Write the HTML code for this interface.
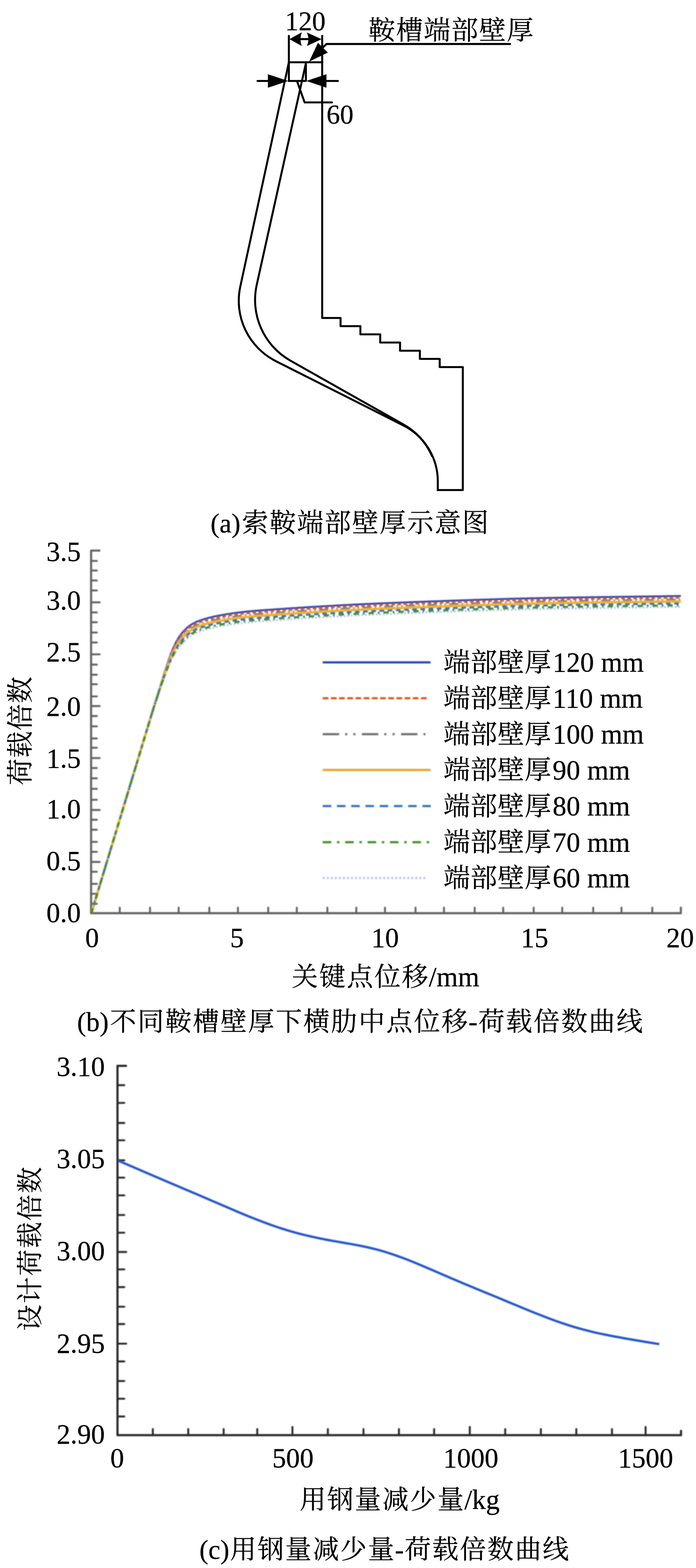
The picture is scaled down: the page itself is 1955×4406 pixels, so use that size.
<!DOCTYPE html>
<html><head><meta charset="utf-8"><title>figure</title>
<style>
html,body{margin:0;padding:0;background:#fff;overflow:hidden;}
svg{display:block;}
text{font-family:"Liberation Serif","Noto Serif CJK SC",serif;stroke:#000;stroke-width:0.45px;}
</style></head><body>
<svg width="1955" height="4406" viewBox="0 0 1955 4406">
<defs>
<filter id="bl" x="-5%" y="-5%" width="110%" height="110%"><feGaussianBlur stdDeviation="1.7"/></filter>
<filter id="bl2" x="-5%" y="-5%" width="110%" height="110%"><feGaussianBlur stdDeviation="1.5"/></filter>
</defs>
<rect width="100%" height="100%" fill="#fff"/>
<g fill="none" stroke="#000" stroke-width="5.6" stroke-linejoin="round" stroke-linecap="butt">
<path d="M811.4 175 L675.0 805.0 A190 190 0 0 0 775.1 1014.9 L1133 1195.5 A176 176 0 0 1 1229.7 1349 L1229.7 1379.8"/>
<path d="M859.8 175 L721.1 800.5 A196 196 0 0 0 816.1 1013.6 L1131 1191.5 A184 184 0 0 1 1214 1283"/>
<path d="M905.0 100.8 L905.0 893.5 L956.6 893.5 L956.6 916.5 L1012.3 916.5 L1012.3 939.5 L1068 939.5 L1068 962.5 L1123.7 962.5 L1123.7 985.5 L1179.4 985.5 L1179.4 1008.5 L1235.1 1008.5 L1235.1 1031.5 L1300 1031.5 L1300 1377 L1229.7 1377" stroke-linecap="round"/>
<path d="M811.4 100.8V227.5" stroke-linecap="round"/>
<path d="M809 175H908"/>
<path d="M859.2 175V227.5"/>
<path d="M809 227.5H861"/>
<path d="M820 109.9H896"/>
<path d="M723.5 227.5H760" stroke-linecap="round"/>
<path d="M915 227.5H949" stroke-linecap="round"/>
<path d="M834.7 229L855.7 287.7H932.2" stroke-linecap="round"/>
<path d="M1432.7 123.6H917L890 150" stroke-linecap="round"/>
</g>
<g fill="#000">
<path d="M813 109.9L847.7 90.8Q840.2 109.9 847.7 129.2Z"/>
<path d="M903.2 109.9L861.9 91.2Q870.6 109.9 861.9 129.4Z"/>
<path d="M809.5 227.5L752.5 208.6V246.6Z"/>
<path d="M860.5 227.5L917 208.5V246.5Z"/>
<path d="M868.2 173.2L893.1 120.2L920.9 147.7Z"/>
</g>
<text x="800.5" y="85" font-size="76">120</text>
<text x="917" y="346.5" font-size="76">60</text>
<text x="1034.7 1112.4 1190.1 1267.8 1345.5 1423.2" y="111.2" font-size="75.5" fill="#000">鞍槽端部壁厚</text>
<text x="591.3" y="1496" font-size="76">(a)</text>
<text x="679.6 756.9 834.2 911.5 988.8 1066.1 1143.4 1220.7 1298.0" y="1495.4" font-size="74.5" fill="#000">索鞍端部壁厚示意图</text>
<g filter="url(#bl)">
<g stroke="#606060" stroke-width="5.8" fill="none" stroke-linecap="round" stroke-linejoin="round">
<path d="M279.4 1547.1H255.9V2566.0H1912.5v-15.5"/>
</g>
<g stroke="#606060" stroke-width="5.3" fill="none" stroke-linecap="round">
<path d="M256.5 2539.7h15.5"/>
<path d="M256.5 2511.7h15.5"/>
<path d="M256.5 2483.7h15.5"/>
<path d="M256.5 2449.6h15.5"/>
<path d="M256.5 2422.0h23.5"/>
<path d="M256.5 2393.6h15.5"/>
<path d="M256.5 2365.6h15.5"/>
<path d="M256.5 2331.5h15.5"/>
<path d="M256.5 2303.5h15.5"/>
<path d="M256.5 2276.0h23.5"/>
<path d="M256.5 2247.4h15.5"/>
<path d="M256.5 2216.7h15.5"/>
<path d="M256.5 2187.0h15.5"/>
<path d="M256.5 2158.1h15.5"/>
<path d="M256.5 2130.1h23.5"/>
<path d="M256.5 2101.2h15.5"/>
<path d="M256.5 2075.0h15.5"/>
<path d="M256.5 2040.9h15.5"/>
<path d="M256.5 2012.0h15.5"/>
<path d="M256.5 1984.0h23.5"/>
<path d="M256.5 1956.9h15.5"/>
<path d="M256.5 1922.7h15.5"/>
<path d="M256.5 1896.0h15.5"/>
<path d="M256.5 1867.5h15.5"/>
<path d="M256.5 1838.6h23.5"/>
<path d="M256.5 1805.3h15.5"/>
<path d="M256.5 1777.3h15.5"/>
<path d="M256.5 1748.5h15.5"/>
<path d="M256.5 1720.8h15.5"/>
<path d="M256.5 1692.5h23.5"/>
<path d="M256.5 1659.2h15.5"/>
<path d="M256.5 1631.2h15.5"/>
<path d="M256.5 1603.2h15.5"/>
<path d="M256.5 1576.1h15.5"/>
<path d="M336.4 2566.0v-15.5"/>
<path d="M421.4 2566.0v-15.5"/>
<path d="M501.8 2566.0v-15.5"/>
<path d="M588.0 2566.0v-15.5"/>
<path d="M668.3 2566.0v-15.5"/>
<path d="M753.4 2566.0v-15.5"/>
<path d="M833.7 2566.0v-15.5"/>
<path d="M919.5 2566.0v-15.5"/>
<path d="M1000.8 2566.0v-15.5"/>
<path d="M1081.4 2566.0v-15.5"/>
<path d="M1167.1 2566.0v-15.5"/>
<path d="M1247.1 2566.0v-15.5"/>
<path d="M1333.4 2566.0v-15.5"/>
<path d="M1413.4 2566.0v-15.5"/>
<path d="M1499.1 2566.0v-15.5"/>
<path d="M1579.3 2566.0v-15.5"/>
<path d="M1666.3 2566.0v-15.5"/>
<path d="M1745.7 2566.0v-15.5"/>
<path d="M1832.2 2566.0v-15.5"/>
</g>
</g>
<g filter="url(#bl)" fill="none" stroke-width="5.2">
<path d="M256.5 2566.0 L260.6 2552.3 L264.8 2538.7 L268.9 2525.0 L273.1 2511.4 L277.2 2497.7 L281.3 2484.1 L285.5 2470.4 L289.6 2456.8 L293.8 2443.1 L297.9 2429.5 L302.0 2415.8 L306.2 2402.2 L310.3 2388.5 L314.5 2374.9 L318.6 2361.2 L322.7 2347.6 L326.9 2333.9 L331.0 2320.3 L335.2 2306.6 L339.3 2292.9 L343.4 2279.3 L347.6 2265.6 L351.7 2252.0 L355.9 2238.3 L360.0 2224.7 L364.1 2211.0 L368.3 2197.4 L372.4 2183.7 L376.6 2170.0 L380.7 2156.4 L384.8 2142.7 L389.0 2129.0 L393.1 2115.3 L397.3 2101.6 L401.4 2088.0 L405.5 2074.3 L409.7 2060.6 L413.8 2047.0 L418.0 2033.3 L422.1 2019.7 L426.2 2006.2 L430.4 1993.1 L434.5 1980.3 L438.7 1967.7 L442.8 1955.4 L446.9 1943.2 L451.1 1931.2 L455.2 1919.6 L459.4 1908.4 L463.5 1897.3 L467.6 1886.7 L471.8 1876.5 L475.9 1866.7 L480.1 1857.4 L484.2 1848.9 L488.3 1841.1 L492.5 1833.9 L496.6 1827.5 L500.8 1821.8 L504.9 1816.5 L509.0 1811.7 L513.2 1807.2 L517.3 1802.8 L521.5 1798.7 L525.6 1794.8 L529.7 1791.2 L533.9 1788.2 L538.0 1785.6 L542.2 1783.2 L546.3 1781.0 L550.4 1778.9 L554.6 1777.1 L558.7 1775.4 L562.9 1773.9 L567.0 1772.5 L571.1 1771.2 L575.3 1770.0 L579.4 1768.8 L583.6 1767.7 L587.7 1766.6 L591.8 1765.6 L596.0 1764.6 L600.1 1763.7 L604.3 1762.8 L608.4 1761.9 L612.5 1761.1 L616.7 1760.3 L620.8 1759.5 L625.0 1758.8 L629.1 1758.1 L633.2 1757.4 L637.4 1756.7 L641.5 1756.0 L645.7 1755.4 L649.8 1754.8 L653.9 1754.2 L658.1 1753.6 L662.2 1753.0 L666.4 1752.5 L670.5 1752.0 L674.6 1751.4 L678.8 1751.0 L682.9 1750.5 L687.1 1750.0 L691.2 1749.6 L695.3 1749.2 L699.5 1748.8 L703.6 1748.4 L707.8 1748.0 L711.9 1747.6 L716.0 1747.3 L720.2 1746.9 L724.3 1746.6 L728.5 1746.3 L732.6 1746.0 L736.7 1745.7 L740.9 1745.4 L745.0 1745.1 L749.2 1744.8 L753.3 1744.5 L757.4 1744.2 L761.6 1743.9 L765.7 1743.6 L769.9 1743.3 L774.0 1743.1 L778.1 1742.8 L782.3 1742.5 L786.4 1742.2 L790.6 1741.9 L794.7 1741.6 L798.8 1741.3 L803.0 1741.0 L807.1 1740.8 L811.3 1740.5 L815.4 1740.2 L819.5 1739.9 L823.7 1739.7 L827.8 1739.4 L832.0 1739.1 L836.1 1738.9 L840.2 1738.6 L844.4 1738.3 L848.5 1738.1 L852.7 1737.8 L856.8 1737.6 L860.9 1737.3 L865.1 1737.0 L869.2 1736.8 L873.4 1736.5 L877.5 1736.3 L881.6 1736.0 L885.8 1735.8 L889.9 1735.5 L894.1 1735.3 L898.2 1735.0 L902.3 1734.8 L906.5 1734.6 L910.6 1734.3 L914.8 1734.1 L918.9 1733.8 L923.0 1733.6 L927.2 1733.3 L931.3 1733.1 L935.5 1732.9 L939.6 1732.6 L943.7 1732.4 L947.9 1732.2 L952.0 1731.9 L956.2 1731.7 L960.3 1731.5 L964.4 1731.3 L968.6 1731.1 L972.7 1730.8 L976.9 1730.6 L981.0 1730.4 L985.1 1730.2 L989.3 1730.0 L993.4 1729.8 L997.6 1729.6 L1001.7 1729.4 L1005.8 1729.2 L1010.0 1729.0 L1014.1 1728.8 L1018.3 1728.6 L1022.4 1728.4 L1026.5 1728.2 L1030.7 1728.0 L1034.8 1727.8 L1039.0 1727.7 L1043.1 1727.5 L1047.2 1727.3 L1051.4 1727.1 L1055.5 1726.9 L1059.7 1726.7 L1063.8 1726.6 L1067.9 1726.4 L1072.1 1726.2 L1076.2 1726.0 L1080.4 1725.9 L1084.5 1725.7 L1088.6 1725.5 L1092.8 1725.3 L1096.9 1725.2 L1101.1 1725.0 L1105.2 1724.8 L1109.3 1724.7 L1113.5 1724.5 L1117.6 1724.3 L1121.8 1724.2 L1125.9 1724.0 L1130.0 1723.9 L1134.2 1723.7 L1138.3 1723.5 L1142.5 1723.4 L1146.6 1723.2 L1150.7 1723.1 L1154.9 1722.9 L1159.0 1722.7 L1163.2 1722.6 L1167.3 1722.4 L1171.4 1722.3 L1175.6 1722.1 L1179.7 1722.0 L1183.9 1721.8 L1188.0 1721.7 L1192.1 1721.5 L1196.3 1721.4 L1200.4 1721.2 L1204.6 1721.1 L1208.7 1720.9 L1212.8 1720.8 L1217.0 1720.6 L1221.1 1720.5 L1225.3 1720.3 L1229.4 1720.2 L1233.5 1720.0 L1237.7 1719.9 L1241.8 1719.7 L1246.0 1719.6 L1250.1 1719.4 L1254.2 1719.3 L1258.4 1719.2 L1262.5 1719.0 L1266.7 1718.9 L1270.8 1718.7 L1274.9 1718.6 L1279.1 1718.4 L1283.2 1718.3 L1287.4 1718.1 L1291.5 1718.0 L1295.6 1717.8 L1299.8 1717.7 L1303.9 1717.6 L1308.1 1717.4 L1312.2 1717.3 L1316.3 1717.1 L1320.5 1717.0 L1324.6 1716.8 L1328.8 1716.7 L1332.9 1716.6 L1337.0 1716.4 L1341.2 1716.3 L1345.3 1716.2 L1349.5 1716.0 L1353.6 1715.9 L1357.7 1715.8 L1361.9 1715.6 L1366.0 1715.5 L1370.2 1715.4 L1374.3 1715.2 L1378.4 1715.1 L1382.6 1715.0 L1386.7 1714.8 L1390.9 1714.7 L1395.0 1714.6 L1399.1 1714.5 L1403.3 1714.3 L1407.4 1714.2 L1411.6 1714.1 L1415.7 1714.0 L1419.8 1713.9 L1424.0 1713.8 L1428.1 1713.6 L1432.3 1713.5 L1436.4 1713.4 L1440.5 1713.3 L1444.7 1713.2 L1448.8 1713.1 L1453.0 1713.0 L1457.1 1712.9 L1461.2 1712.8 L1465.4 1712.7 L1469.5 1712.6 L1473.7 1712.5 L1477.8 1712.4 L1481.9 1712.3 L1486.1 1712.2 L1490.2 1712.1 L1494.4 1712.0 L1498.5 1711.9 L1502.6 1711.8 L1506.8 1711.7 L1510.9 1711.7 L1515.1 1711.6 L1519.2 1711.5 L1523.3 1711.4 L1527.5 1711.3 L1531.6 1711.2 L1535.8 1711.2 L1539.9 1711.1 L1544.0 1711.0 L1548.2 1710.9 L1552.3 1710.9 L1556.5 1710.8 L1560.6 1710.7 L1564.7 1710.6 L1568.9 1710.6 L1573.0 1710.5 L1577.2 1710.4 L1581.3 1710.3 L1585.4 1710.3 L1589.6 1710.2 L1593.7 1710.1 L1597.9 1710.1 L1602.0 1710.0 L1606.1 1709.9 L1610.3 1709.8 L1614.4 1709.8 L1618.6 1709.7 L1622.7 1709.6 L1626.8 1709.6 L1631.0 1709.5 L1635.1 1709.5 L1639.3 1709.4 L1643.4 1709.3 L1647.5 1709.3 L1651.7 1709.2 L1655.8 1709.1 L1660.0 1709.1 L1664.1 1709.0 L1668.2 1709.0 L1672.4 1708.9 L1676.5 1708.8 L1680.7 1708.8 L1684.8 1708.7 L1688.9 1708.7 L1693.1 1708.6 L1697.2 1708.5 L1701.4 1708.5 L1705.5 1708.4 L1709.6 1708.4 L1713.8 1708.3 L1717.9 1708.2 L1722.1 1708.2 L1726.2 1708.1 L1730.3 1708.1 L1734.5 1708.0 L1738.6 1708.0 L1742.8 1707.9 L1746.9 1707.8 L1751.0 1707.8 L1755.2 1707.7 L1759.3 1707.7 L1763.5 1707.6 L1767.6 1707.6 L1771.7 1707.5 L1775.9 1707.5 L1780.0 1707.4 L1784.2 1707.3 L1788.3 1707.3 L1792.4 1707.2 L1796.6 1707.2 L1800.7 1707.1 L1804.9 1707.1 L1809.0 1707.0 L1813.1 1706.9 L1817.3 1706.9 L1821.4 1706.8 L1825.6 1706.8 L1829.7 1706.7 L1833.8 1706.7 L1838.0 1706.6 L1842.1 1706.5 L1846.3 1706.5 L1850.4 1706.4 L1854.5 1706.4 L1858.7 1706.3 L1862.8 1706.2 L1867.0 1706.2 L1871.1 1706.1 L1875.2 1706.1 L1879.4 1706.0 L1883.5 1705.9 L1887.7 1705.9 L1891.8 1705.8 L1895.9 1705.8 L1900.1 1705.7 L1904.2 1705.6 L1908.4 1705.6 L1912.5 1705.5" stroke="#b4c4f0" stroke-width="5.0" stroke-dasharray="5 5"/>
<path d="M256.5 2566.0 L260.6 2552.3 L264.8 2538.7 L268.9 2525.0 L273.1 2511.4 L277.2 2497.7 L281.3 2484.1 L285.5 2470.4 L289.6 2456.8 L293.8 2443.1 L297.9 2429.5 L302.0 2415.8 L306.2 2402.2 L310.3 2388.5 L314.5 2374.9 L318.6 2361.2 L322.7 2347.6 L326.9 2333.9 L331.0 2320.3 L335.2 2306.6 L339.3 2292.9 L343.4 2279.3 L347.6 2265.6 L351.7 2252.0 L355.9 2238.3 L360.0 2224.7 L364.1 2211.0 L368.3 2197.4 L372.4 2183.7 L376.6 2170.0 L380.7 2156.4 L384.8 2142.7 L389.0 2129.0 L393.1 2115.3 L397.3 2101.6 L401.4 2088.0 L405.5 2074.3 L409.7 2060.6 L413.8 2047.0 L418.0 2033.3 L422.1 2019.7 L426.2 2006.1 L430.4 1992.4 L434.5 1978.8 L438.7 1965.2 L442.8 1951.6 L446.9 1938.0 L451.1 1924.4 L455.2 1911.0 L459.4 1897.9 L463.5 1884.9 L467.6 1872.2 L471.8 1860.1 L475.9 1848.3 L480.1 1837.0 L484.2 1826.6 L488.3 1817.1 L492.5 1808.3 L496.6 1800.4 L500.8 1793.4 L504.9 1787.1 L509.0 1781.5 L513.2 1776.5 L517.3 1771.9 L521.5 1767.8 L525.6 1763.9 L529.7 1760.3 L533.9 1757.3 L538.0 1754.7 L542.2 1752.3 L546.3 1750.1 L550.4 1748.1 L554.6 1746.2 L558.7 1744.6 L562.9 1743.1 L567.0 1741.7 L571.1 1740.4 L575.3 1739.1 L579.4 1737.9 L583.6 1736.8 L587.7 1735.7 L591.8 1734.7 L596.0 1733.7 L600.1 1732.8 L604.3 1731.9 L608.4 1731.0 L612.5 1730.2 L616.7 1729.4 L620.8 1728.7 L625.0 1727.9 L629.1 1727.2 L633.2 1726.5 L637.4 1725.8 L641.5 1725.2 L645.7 1724.5 L649.8 1723.9 L653.9 1723.3 L658.1 1722.7 L662.2 1722.2 L666.4 1721.6 L670.5 1721.1 L674.6 1720.6 L678.8 1720.1 L682.9 1719.6 L687.1 1719.2 L691.2 1718.7 L695.3 1718.3 L699.5 1717.9 L703.6 1717.5 L707.8 1717.1 L711.9 1716.8 L716.0 1716.4 L720.2 1716.1 L724.3 1715.8 L728.5 1715.4 L732.6 1715.1 L736.7 1714.8 L740.9 1714.5 L745.0 1714.2 L749.2 1713.9 L753.3 1713.6 L757.4 1713.4 L761.6 1713.1 L765.7 1712.8 L769.9 1712.5 L774.0 1712.2 L778.1 1711.9 L782.3 1711.6 L786.4 1711.3 L790.6 1711.0 L794.7 1710.8 L798.8 1710.5 L803.0 1710.2 L807.1 1709.9 L811.3 1709.6 L815.4 1709.4 L819.5 1709.1 L823.7 1708.8 L827.8 1708.5 L832.0 1708.3 L836.1 1708.0 L840.2 1707.7 L844.4 1707.5 L848.5 1707.2 L852.7 1707.0 L856.8 1706.7 L860.9 1706.4 L865.1 1706.2 L869.2 1705.9 L873.4 1705.7 L877.5 1705.4 L881.6 1705.2 L885.8 1704.9 L889.9 1704.7 L894.1 1704.4 L898.2 1704.2 L902.3 1703.9 L906.5 1703.7 L910.6 1703.5 L914.8 1703.2 L918.9 1703.0 L923.0 1702.7 L927.2 1702.5 L931.3 1702.3 L935.5 1702.0 L939.6 1701.8 L943.7 1701.5 L947.9 1701.3 L952.0 1701.1 L956.2 1700.9 L960.3 1700.6 L964.4 1700.4 L968.6 1700.2 L972.7 1700.0 L976.9 1699.8 L981.0 1699.5 L985.1 1699.3 L989.3 1699.1 L993.4 1698.9 L997.6 1698.7 L1001.7 1698.5 L1005.8 1698.3 L1010.0 1698.1 L1014.1 1697.9 L1018.3 1697.7 L1022.4 1697.6 L1026.5 1697.4 L1030.7 1697.2 L1034.8 1697.0 L1039.0 1696.8 L1043.1 1696.6 L1047.2 1696.4 L1051.4 1696.2 L1055.5 1696.1 L1059.7 1695.9 L1063.8 1695.7 L1067.9 1695.5 L1072.1 1695.4 L1076.2 1695.2 L1080.4 1695.0 L1084.5 1694.8 L1088.6 1694.7 L1092.8 1694.5 L1096.9 1694.3 L1101.1 1694.2 L1105.2 1694.0 L1109.3 1693.8 L1113.5 1693.7 L1117.6 1693.5 L1121.8 1693.3 L1125.9 1693.2 L1130.0 1693.0 L1134.2 1692.8 L1138.3 1692.7 L1142.5 1692.5 L1146.6 1692.4 L1150.7 1692.2 L1154.9 1692.0 L1159.0 1691.9 L1163.2 1691.7 L1167.3 1691.6 L1171.4 1691.4 L1175.6 1691.3 L1179.7 1691.1 L1183.9 1691.0 L1188.0 1690.8 L1192.1 1690.7 L1196.3 1690.5 L1200.4 1690.4 L1204.6 1690.2 L1208.7 1690.1 L1212.8 1689.9 L1217.0 1689.8 L1221.1 1689.6 L1225.3 1689.5 L1229.4 1689.3 L1233.5 1689.2 L1237.7 1689.0 L1241.8 1688.9 L1246.0 1688.7 L1250.1 1688.6 L1254.2 1688.4 L1258.4 1688.3 L1262.5 1688.1 L1266.7 1688.0 L1270.8 1687.9 L1274.9 1687.7 L1279.1 1687.6 L1283.2 1687.4 L1287.4 1687.3 L1291.5 1687.1 L1295.6 1687.0 L1299.8 1686.8 L1303.9 1686.7 L1308.1 1686.6 L1312.2 1686.4 L1316.3 1686.3 L1320.5 1686.1 L1324.6 1686.0 L1328.8 1685.9 L1332.9 1685.7 L1337.0 1685.6 L1341.2 1685.4 L1345.3 1685.3 L1349.5 1685.2 L1353.6 1685.0 L1357.7 1684.9 L1361.9 1684.8 L1366.0 1684.6 L1370.2 1684.5 L1374.3 1684.4 L1378.4 1684.2 L1382.6 1684.1 L1386.7 1684.0 L1390.9 1683.9 L1395.0 1683.7 L1399.1 1683.6 L1403.3 1683.5 L1407.4 1683.4 L1411.6 1683.2 L1415.7 1683.1 L1419.8 1683.0 L1424.0 1682.9 L1428.1 1682.8 L1432.3 1682.7 L1436.4 1682.6 L1440.5 1682.4 L1444.7 1682.3 L1448.8 1682.2 L1453.0 1682.1 L1457.1 1682.0 L1461.2 1681.9 L1465.4 1681.8 L1469.5 1681.7 L1473.7 1681.6 L1477.8 1681.5 L1481.9 1681.4 L1486.1 1681.3 L1490.2 1681.2 L1494.4 1681.1 L1498.5 1681.1 L1502.6 1681.0 L1506.8 1680.9 L1510.9 1680.8 L1515.1 1680.7 L1519.2 1680.6 L1523.3 1680.5 L1527.5 1680.5 L1531.6 1680.4 L1535.8 1680.3 L1539.9 1680.2 L1544.0 1680.1 L1548.2 1680.1 L1552.3 1680.0 L1556.5 1679.9 L1560.6 1679.8 L1564.7 1679.8 L1568.9 1679.7 L1573.0 1679.6 L1577.2 1679.5 L1581.3 1679.5 L1585.4 1679.4 L1589.6 1679.3 L1593.7 1679.3 L1597.9 1679.2 L1602.0 1679.1 L1606.1 1679.1 L1610.3 1679.0 L1614.4 1678.9 L1618.6 1678.9 L1622.7 1678.8 L1626.8 1678.7 L1631.0 1678.7 L1635.1 1678.6 L1639.3 1678.5 L1643.4 1678.5 L1647.5 1678.4 L1651.7 1678.3 L1655.8 1678.3 L1660.0 1678.2 L1664.1 1678.2 L1668.2 1678.1 L1672.4 1678.0 L1676.5 1678.0 L1680.7 1677.9 L1684.8 1677.9 L1688.9 1677.8 L1693.1 1677.7 L1697.2 1677.7 L1701.4 1677.6 L1705.5 1677.6 L1709.6 1677.5 L1713.8 1677.4 L1717.9 1677.4 L1722.1 1677.3 L1726.2 1677.3 L1730.3 1677.2 L1734.5 1677.2 L1738.6 1677.1 L1742.8 1677.0 L1746.9 1677.0 L1751.0 1676.9 L1755.2 1676.9 L1759.3 1676.8 L1763.5 1676.8 L1767.6 1676.7 L1771.7 1676.7 L1775.9 1676.6 L1780.0 1676.5 L1784.2 1676.5 L1788.3 1676.4 L1792.4 1676.4 L1796.6 1676.3 L1800.7 1676.3 L1804.9 1676.2 L1809.0 1676.1 L1813.1 1676.1 L1817.3 1676.0 L1821.4 1676.0 L1825.6 1675.9 L1829.7 1675.9 L1833.8 1675.8 L1838.0 1675.7 L1842.1 1675.7 L1846.3 1675.6 L1850.4 1675.6 L1854.5 1675.5 L1858.7 1675.5 L1862.8 1675.4 L1867.0 1675.3 L1871.1 1675.3 L1875.2 1675.2 L1879.4 1675.2 L1883.5 1675.1 L1887.7 1675.0 L1891.8 1675.0 L1895.9 1674.9 L1900.1 1674.8 L1904.2 1674.8 L1908.4 1674.7 L1912.5 1674.7" stroke="#2444a8" stroke-width="5.2"/>
<path d="M256.5 2566.0 L260.6 2552.3 L264.8 2538.7 L268.9 2525.0 L273.1 2511.4 L277.2 2497.7 L281.3 2484.1 L285.5 2470.4 L289.6 2456.8 L293.8 2443.1 L297.9 2429.5 L302.0 2415.8 L306.2 2402.2 L310.3 2388.5 L314.5 2374.9 L318.6 2361.2 L322.7 2347.6 L326.9 2333.9 L331.0 2320.3 L335.2 2306.6 L339.3 2292.9 L343.4 2279.3 L347.6 2265.6 L351.7 2252.0 L355.9 2238.3 L360.0 2224.7 L364.1 2211.0 L368.3 2197.4 L372.4 2183.7 L376.6 2170.0 L380.7 2156.4 L384.8 2142.7 L389.0 2129.0 L393.1 2115.3 L397.3 2101.6 L401.4 2088.0 L405.5 2074.3 L409.7 2060.6 L413.8 2047.0 L418.0 2033.3 L422.1 2019.7 L426.2 2006.1 L430.4 1992.5 L434.5 1979.0 L438.7 1965.6 L442.8 1952.2 L446.9 1938.8 L451.1 1925.4 L455.2 1912.3 L459.4 1899.5 L463.5 1886.8 L467.6 1874.4 L471.8 1862.6 L475.9 1851.1 L480.1 1840.1 L484.2 1830.0 L488.3 1820.7 L492.5 1812.1 L496.6 1804.5 L500.8 1797.7 L504.9 1791.6 L509.0 1786.0 L513.2 1781.1 L517.3 1776.6 L521.5 1772.5 L525.6 1768.6 L529.7 1765.0 L533.9 1762.0 L538.0 1759.4 L542.2 1757.0 L546.3 1754.8 L550.4 1752.8 L554.6 1750.9 L558.7 1749.2 L562.9 1747.7 L567.0 1746.3 L571.1 1745.0 L575.3 1743.8 L579.4 1742.6 L583.6 1741.5 L587.7 1740.4 L591.8 1739.4 L596.0 1738.4 L600.1 1737.5 L604.3 1736.6 L608.4 1735.7 L612.5 1734.9 L616.7 1734.1 L620.8 1733.3 L625.0 1732.6 L629.1 1731.9 L633.2 1731.2 L637.4 1730.5 L641.5 1729.8 L645.7 1729.2 L649.8 1728.6 L653.9 1728.0 L658.1 1727.4 L662.2 1726.8 L666.4 1726.3 L670.5 1725.8 L674.6 1725.2 L678.8 1724.8 L682.9 1724.3 L687.1 1723.8 L691.2 1723.4 L695.3 1723.0 L699.5 1722.6 L703.6 1722.2 L707.8 1721.8 L711.9 1721.4 L716.0 1721.1 L720.2 1720.7 L724.3 1720.4 L728.5 1720.1 L732.6 1719.8 L736.7 1719.5 L740.9 1719.2 L745.0 1718.9 L749.2 1718.6 L753.3 1718.3 L757.4 1718.0 L761.6 1717.7 L765.7 1717.4 L769.9 1717.2 L774.0 1716.9 L778.1 1716.6 L782.3 1716.3 L786.4 1716.0 L790.6 1715.7 L794.7 1715.4 L798.8 1715.1 L803.0 1714.8 L807.1 1714.6 L811.3 1714.3 L815.4 1714.0 L819.5 1713.7 L823.7 1713.5 L827.8 1713.2 L832.0 1712.9 L836.1 1712.7 L840.2 1712.4 L844.4 1712.1 L848.5 1711.9 L852.7 1711.6 L856.8 1711.4 L860.9 1711.1 L865.1 1710.8 L869.2 1710.6 L873.4 1710.3 L877.5 1710.1 L881.6 1709.8 L885.8 1709.6 L889.9 1709.3 L894.1 1709.1 L898.2 1708.8 L902.3 1708.6 L906.5 1708.4 L910.6 1708.1 L914.8 1707.9 L918.9 1707.6 L923.0 1707.4 L927.2 1707.1 L931.3 1706.9 L935.5 1706.7 L939.6 1706.4 L943.7 1706.2 L947.9 1706.0 L952.0 1705.7 L956.2 1705.5 L960.3 1705.3 L964.4 1705.1 L968.6 1704.9 L972.7 1704.6 L976.9 1704.4 L981.0 1704.2 L985.1 1704.0 L989.3 1703.8 L993.4 1703.6 L997.6 1703.4 L1001.7 1703.2 L1005.8 1703.0 L1010.0 1702.8 L1014.1 1702.6 L1018.3 1702.4 L1022.4 1702.2 L1026.5 1702.0 L1030.7 1701.8 L1034.8 1701.6 L1039.0 1701.5 L1043.1 1701.3 L1047.2 1701.1 L1051.4 1700.9 L1055.5 1700.7 L1059.7 1700.5 L1063.8 1700.4 L1067.9 1700.2 L1072.1 1700.0 L1076.2 1699.8 L1080.4 1699.7 L1084.5 1699.5 L1088.6 1699.3 L1092.8 1699.1 L1096.9 1699.0 L1101.1 1698.8 L1105.2 1698.6 L1109.3 1698.5 L1113.5 1698.3 L1117.6 1698.1 L1121.8 1698.0 L1125.9 1697.8 L1130.0 1697.7 L1134.2 1697.5 L1138.3 1697.3 L1142.5 1697.2 L1146.6 1697.0 L1150.7 1696.9 L1154.9 1696.7 L1159.0 1696.5 L1163.2 1696.4 L1167.3 1696.2 L1171.4 1696.1 L1175.6 1695.9 L1179.7 1695.8 L1183.9 1695.6 L1188.0 1695.5 L1192.1 1695.3 L1196.3 1695.2 L1200.4 1695.0 L1204.6 1694.9 L1208.7 1694.7 L1212.8 1694.6 L1217.0 1694.4 L1221.1 1694.3 L1225.3 1694.1 L1229.4 1694.0 L1233.5 1693.8 L1237.7 1693.7 L1241.8 1693.5 L1246.0 1693.4 L1250.1 1693.2 L1254.2 1693.1 L1258.4 1693.0 L1262.5 1692.8 L1266.7 1692.7 L1270.8 1692.5 L1274.9 1692.4 L1279.1 1692.2 L1283.2 1692.1 L1287.4 1691.9 L1291.5 1691.8 L1295.6 1691.6 L1299.8 1691.5 L1303.9 1691.4 L1308.1 1691.2 L1312.2 1691.1 L1316.3 1690.9 L1320.5 1690.8 L1324.6 1690.6 L1328.8 1690.5 L1332.9 1690.4 L1337.0 1690.2 L1341.2 1690.1 L1345.3 1690.0 L1349.5 1689.8 L1353.6 1689.7 L1357.7 1689.6 L1361.9 1689.4 L1366.0 1689.3 L1370.2 1689.2 L1374.3 1689.0 L1378.4 1688.9 L1382.6 1688.8 L1386.7 1688.6 L1390.9 1688.5 L1395.0 1688.4 L1399.1 1688.3 L1403.3 1688.1 L1407.4 1688.0 L1411.6 1687.9 L1415.7 1687.8 L1419.8 1687.7 L1424.0 1687.6 L1428.1 1687.4 L1432.3 1687.3 L1436.4 1687.2 L1440.5 1687.1 L1444.7 1687.0 L1448.8 1686.9 L1453.0 1686.8 L1457.1 1686.7 L1461.2 1686.6 L1465.4 1686.5 L1469.5 1686.4 L1473.7 1686.3 L1477.8 1686.2 L1481.9 1686.1 L1486.1 1686.0 L1490.2 1685.9 L1494.4 1685.8 L1498.5 1685.7 L1502.6 1685.6 L1506.8 1685.5 L1510.9 1685.5 L1515.1 1685.4 L1519.2 1685.3 L1523.3 1685.2 L1527.5 1685.1 L1531.6 1685.0 L1535.8 1685.0 L1539.9 1684.9 L1544.0 1684.8 L1548.2 1684.7 L1552.3 1684.7 L1556.5 1684.6 L1560.6 1684.5 L1564.7 1684.4 L1568.9 1684.4 L1573.0 1684.3 L1577.2 1684.2 L1581.3 1684.1 L1585.4 1684.1 L1589.6 1684.0 L1593.7 1683.9 L1597.9 1683.9 L1602.0 1683.8 L1606.1 1683.7 L1610.3 1683.7 L1614.4 1683.6 L1618.6 1683.5 L1622.7 1683.5 L1626.8 1683.4 L1631.0 1683.3 L1635.1 1683.3 L1639.3 1683.2 L1643.4 1683.1 L1647.5 1683.1 L1651.7 1683.0 L1655.8 1682.9 L1660.0 1682.9 L1664.1 1682.8 L1668.2 1682.8 L1672.4 1682.7 L1676.5 1682.6 L1680.7 1682.6 L1684.8 1682.5 L1688.9 1682.5 L1693.1 1682.4 L1697.2 1682.3 L1701.4 1682.3 L1705.5 1682.2 L1709.6 1682.2 L1713.8 1682.1 L1717.9 1682.0 L1722.1 1682.0 L1726.2 1681.9 L1730.3 1681.9 L1734.5 1681.8 L1738.6 1681.8 L1742.8 1681.7 L1746.9 1681.6 L1751.0 1681.6 L1755.2 1681.5 L1759.3 1681.5 L1763.5 1681.4 L1767.6 1681.4 L1771.7 1681.3 L1775.9 1681.3 L1780.0 1681.2 L1784.2 1681.1 L1788.3 1681.1 L1792.4 1681.0 L1796.6 1681.0 L1800.7 1680.9 L1804.9 1680.9 L1809.0 1680.8 L1813.1 1680.7 L1817.3 1680.7 L1821.4 1680.6 L1825.6 1680.6 L1829.7 1680.5 L1833.8 1680.5 L1838.0 1680.4 L1842.1 1680.3 L1846.3 1680.3 L1850.4 1680.2 L1854.5 1680.2 L1858.7 1680.1 L1862.8 1680.0 L1867.0 1680.0 L1871.1 1679.9 L1875.2 1679.9 L1879.4 1679.8 L1883.5 1679.7 L1887.7 1679.7 L1891.8 1679.6 L1895.9 1679.6 L1900.1 1679.5 L1904.2 1679.4 L1908.4 1679.4 L1912.5 1679.3" stroke="#d85818" stroke-width="5.6" stroke-dasharray="10 7"/>
<path d="M256.5 2566.0 L260.6 2552.3 L264.8 2538.7 L268.9 2525.0 L273.1 2511.4 L277.2 2497.7 L281.3 2484.1 L285.5 2470.4 L289.6 2456.8 L293.8 2443.1 L297.9 2429.5 L302.0 2415.8 L306.2 2402.2 L310.3 2388.5 L314.5 2374.9 L318.6 2361.2 L322.7 2347.6 L326.9 2333.9 L331.0 2320.3 L335.2 2306.6 L339.3 2292.9 L343.4 2279.3 L347.6 2265.6 L351.7 2252.0 L355.9 2238.3 L360.0 2224.7 L364.1 2211.0 L368.3 2197.4 L372.4 2183.7 L376.6 2170.0 L380.7 2156.4 L384.8 2142.7 L389.0 2129.0 L393.1 2115.3 L397.3 2101.6 L401.4 2088.0 L405.5 2074.3 L409.7 2060.6 L413.8 2047.0 L418.0 2033.3 L422.1 2019.7 L426.2 2006.1 L430.4 1992.6 L434.5 1979.3 L438.7 1966.0 L442.8 1952.8 L446.9 1939.6 L451.1 1926.5 L455.2 1913.7 L459.4 1901.2 L463.5 1888.8 L467.6 1876.7 L471.8 1865.2 L475.9 1854.0 L480.1 1843.3 L484.2 1833.5 L488.3 1824.6 L492.5 1816.3 L496.6 1808.8 L500.8 1802.3 L504.9 1796.3 L509.0 1790.9 L513.2 1786.0 L517.3 1781.5 L521.5 1777.4 L525.6 1773.5 L529.7 1770.0 L533.9 1766.9 L538.0 1764.4 L542.2 1762.0 L546.3 1759.7 L550.4 1757.7 L554.6 1755.8 L558.7 1754.2 L562.9 1752.7 L567.0 1751.3 L571.1 1750.0 L575.3 1748.7 L579.4 1747.6 L583.6 1746.4 L587.7 1745.3 L591.8 1744.3 L596.0 1743.3 L600.1 1742.4 L604.3 1741.5 L608.4 1740.7 L612.5 1739.8 L616.7 1739.0 L620.8 1738.3 L625.0 1737.5 L629.1 1736.8 L633.2 1736.1 L637.4 1735.4 L641.5 1734.8 L645.7 1734.1 L649.8 1733.5 L653.9 1732.9 L658.1 1732.3 L662.2 1731.8 L666.4 1731.2 L670.5 1730.7 L674.6 1730.2 L678.8 1729.7 L682.9 1729.2 L687.1 1728.8 L691.2 1728.3 L695.3 1727.9 L699.5 1727.5 L703.6 1727.1 L707.8 1726.8 L711.9 1726.4 L716.0 1726.0 L720.2 1725.7 L724.3 1725.4 L728.5 1725.0 L732.6 1724.7 L736.7 1724.4 L740.9 1724.1 L745.0 1723.8 L749.2 1723.5 L753.3 1723.2 L757.4 1723.0 L761.6 1722.7 L765.7 1722.4 L769.9 1722.1 L774.0 1721.8 L778.1 1721.5 L782.3 1721.2 L786.4 1720.9 L790.6 1720.6 L794.7 1720.4 L798.8 1720.1 L803.0 1719.8 L807.1 1719.5 L811.3 1719.2 L815.4 1719.0 L819.5 1718.7 L823.7 1718.4 L827.8 1718.1 L832.0 1717.9 L836.1 1717.6 L840.2 1717.3 L844.4 1717.1 L848.5 1716.8 L852.7 1716.6 L856.8 1716.3 L860.9 1716.0 L865.1 1715.8 L869.2 1715.5 L873.4 1715.3 L877.5 1715.0 L881.6 1714.8 L885.8 1714.5 L889.9 1714.3 L894.1 1714.0 L898.2 1713.8 L902.3 1713.5 L906.5 1713.3 L910.6 1713.1 L914.8 1712.8 L918.9 1712.6 L923.0 1712.3 L927.2 1712.1 L931.3 1711.9 L935.5 1711.6 L939.6 1711.4 L943.7 1711.2 L947.9 1710.9 L952.0 1710.7 L956.2 1710.5 L960.3 1710.2 L964.4 1710.0 L968.6 1709.8 L972.7 1709.6 L976.9 1709.4 L981.0 1709.2 L985.1 1708.9 L989.3 1708.7 L993.4 1708.5 L997.6 1708.3 L1001.7 1708.1 L1005.8 1707.9 L1010.0 1707.7 L1014.1 1707.5 L1018.3 1707.3 L1022.4 1707.2 L1026.5 1707.0 L1030.7 1706.8 L1034.8 1706.6 L1039.0 1706.4 L1043.1 1706.2 L1047.2 1706.0 L1051.4 1705.9 L1055.5 1705.7 L1059.7 1705.5 L1063.8 1705.3 L1067.9 1705.1 L1072.1 1705.0 L1076.2 1704.8 L1080.4 1704.6 L1084.5 1704.4 L1088.6 1704.3 L1092.8 1704.1 L1096.9 1703.9 L1101.1 1703.8 L1105.2 1703.6 L1109.3 1703.4 L1113.5 1703.3 L1117.6 1703.1 L1121.8 1702.9 L1125.9 1702.8 L1130.0 1702.6 L1134.2 1702.4 L1138.3 1702.3 L1142.5 1702.1 L1146.6 1702.0 L1150.7 1701.8 L1154.9 1701.7 L1159.0 1701.5 L1163.2 1701.3 L1167.3 1701.2 L1171.4 1701.0 L1175.6 1700.9 L1179.7 1700.7 L1183.9 1700.6 L1188.0 1700.4 L1192.1 1700.3 L1196.3 1700.1 L1200.4 1700.0 L1204.6 1699.8 L1208.7 1699.7 L1212.8 1699.5 L1217.0 1699.4 L1221.1 1699.2 L1225.3 1699.1 L1229.4 1698.9 L1233.5 1698.8 L1237.7 1698.6 L1241.8 1698.5 L1246.0 1698.3 L1250.1 1698.2 L1254.2 1698.1 L1258.4 1697.9 L1262.5 1697.8 L1266.7 1697.6 L1270.8 1697.5 L1274.9 1697.3 L1279.1 1697.2 L1283.2 1697.0 L1287.4 1696.9 L1291.5 1696.7 L1295.6 1696.6 L1299.8 1696.4 L1303.9 1696.3 L1308.1 1696.2 L1312.2 1696.0 L1316.3 1695.9 L1320.5 1695.7 L1324.6 1695.6 L1328.8 1695.5 L1332.9 1695.3 L1337.0 1695.2 L1341.2 1695.0 L1345.3 1694.9 L1349.5 1694.8 L1353.6 1694.6 L1357.7 1694.5 L1361.9 1694.4 L1366.0 1694.2 L1370.2 1694.1 L1374.3 1694.0 L1378.4 1693.8 L1382.6 1693.7 L1386.7 1693.6 L1390.9 1693.5 L1395.0 1693.3 L1399.1 1693.2 L1403.3 1693.1 L1407.4 1693.0 L1411.6 1692.9 L1415.7 1692.7 L1419.8 1692.6 L1424.0 1692.5 L1428.1 1692.4 L1432.3 1692.3 L1436.4 1692.2 L1440.5 1692.0 L1444.7 1691.9 L1448.8 1691.8 L1453.0 1691.7 L1457.1 1691.6 L1461.2 1691.5 L1465.4 1691.4 L1469.5 1691.3 L1473.7 1691.2 L1477.8 1691.1 L1481.9 1691.0 L1486.1 1690.9 L1490.2 1690.8 L1494.4 1690.8 L1498.5 1690.7 L1502.6 1690.6 L1506.8 1690.5 L1510.9 1690.4 L1515.1 1690.3 L1519.2 1690.2 L1523.3 1690.2 L1527.5 1690.1 L1531.6 1690.0 L1535.8 1689.9 L1539.9 1689.8 L1544.0 1689.8 L1548.2 1689.7 L1552.3 1689.6 L1556.5 1689.5 L1560.6 1689.4 L1564.7 1689.4 L1568.9 1689.3 L1573.0 1689.2 L1577.2 1689.2 L1581.3 1689.1 L1585.4 1689.0 L1589.6 1688.9 L1593.7 1688.9 L1597.9 1688.8 L1602.0 1688.7 L1606.1 1688.7 L1610.3 1688.6 L1614.4 1688.5 L1618.6 1688.5 L1622.7 1688.4 L1626.8 1688.3 L1631.0 1688.3 L1635.1 1688.2 L1639.3 1688.1 L1643.4 1688.1 L1647.5 1688.0 L1651.7 1688.0 L1655.8 1687.9 L1660.0 1687.8 L1664.1 1687.8 L1668.2 1687.7 L1672.4 1687.6 L1676.5 1687.6 L1680.7 1687.5 L1684.8 1687.5 L1688.9 1687.4 L1693.1 1687.3 L1697.2 1687.3 L1701.4 1687.2 L1705.5 1687.2 L1709.6 1687.1 L1713.8 1687.1 L1717.9 1687.0 L1722.1 1686.9 L1726.2 1686.9 L1730.3 1686.8 L1734.5 1686.8 L1738.6 1686.7 L1742.8 1686.7 L1746.9 1686.6 L1751.0 1686.5 L1755.2 1686.5 L1759.3 1686.4 L1763.5 1686.4 L1767.6 1686.3 L1771.7 1686.3 L1775.9 1686.2 L1780.0 1686.1 L1784.2 1686.1 L1788.3 1686.0 L1792.4 1686.0 L1796.6 1685.9 L1800.7 1685.9 L1804.9 1685.8 L1809.0 1685.8 L1813.1 1685.7 L1817.3 1685.6 L1821.4 1685.6 L1825.6 1685.5 L1829.7 1685.5 L1833.8 1685.4 L1838.0 1685.3 L1842.1 1685.3 L1846.3 1685.2 L1850.4 1685.2 L1854.5 1685.1 L1858.7 1685.1 L1862.8 1685.0 L1867.0 1684.9 L1871.1 1684.9 L1875.2 1684.8 L1879.4 1684.8 L1883.5 1684.7 L1887.7 1684.6 L1891.8 1684.6 L1895.9 1684.5 L1900.1 1684.4 L1904.2 1684.4 L1908.4 1684.3 L1912.5 1684.3" stroke="#808080" stroke-width="5.0" stroke-dasharray="26 9 4 9 4 9"/>
<path d="M256.5 2566.0 L260.6 2552.3 L264.8 2538.7 L268.9 2525.0 L273.1 2511.4 L277.2 2497.7 L281.3 2484.1 L285.5 2470.4 L289.6 2456.8 L293.8 2443.1 L297.9 2429.5 L302.0 2415.8 L306.2 2402.2 L310.3 2388.5 L314.5 2374.9 L318.6 2361.2 L322.7 2347.6 L326.9 2333.9 L331.0 2320.3 L335.2 2306.6 L339.3 2292.9 L343.4 2279.3 L347.6 2265.6 L351.7 2252.0 L355.9 2238.3 L360.0 2224.7 L364.1 2211.0 L368.3 2197.4 L372.4 2183.7 L376.6 2170.0 L380.7 2156.4 L384.8 2142.7 L389.0 2129.0 L393.1 2115.3 L397.3 2101.6 L401.4 2088.0 L405.5 2074.3 L409.7 2060.6 L413.8 2047.0 L418.0 2033.3 L422.1 2019.7 L426.2 2006.1 L430.4 1992.8 L434.5 1979.5 L438.7 1966.4 L442.8 1953.5 L446.9 1940.5 L451.1 1927.7 L455.2 1915.2 L459.4 1903.0 L463.5 1891.0 L467.6 1879.3 L471.8 1868.1 L475.9 1857.4 L480.1 1847.0 L484.2 1837.5 L488.3 1828.9 L492.5 1820.9 L496.6 1813.7 L500.8 1807.3 L504.9 1801.5 L509.0 1796.3 L513.2 1791.5 L517.3 1787.1 L521.5 1782.9 L525.6 1779.1 L529.7 1775.5 L533.9 1772.5 L538.0 1769.9 L542.2 1767.5 L546.3 1765.3 L550.4 1763.2 L554.6 1761.4 L558.7 1759.7 L562.9 1758.2 L567.0 1756.8 L571.1 1755.5 L575.3 1754.3 L579.4 1753.1 L583.6 1752.0 L587.7 1750.9 L591.8 1749.9 L596.0 1748.9 L600.1 1747.9 L604.3 1747.0 L608.4 1746.2 L612.5 1745.4 L616.7 1744.6 L620.8 1743.8 L625.0 1743.1 L629.1 1742.3 L633.2 1741.6 L637.4 1741.0 L641.5 1740.3 L645.7 1739.7 L649.8 1739.0 L653.9 1738.4 L658.1 1737.9 L662.2 1737.3 L666.4 1736.8 L670.5 1736.2 L674.6 1735.7 L678.8 1735.2 L682.9 1734.8 L687.1 1734.3 L691.2 1733.9 L695.3 1733.5 L699.5 1733.0 L703.6 1732.7 L707.8 1732.3 L711.9 1731.9 L716.0 1731.6 L720.2 1731.2 L724.3 1730.9 L728.5 1730.6 L732.6 1730.3 L736.7 1730.0 L740.9 1729.7 L745.0 1729.4 L749.2 1729.1 L753.3 1728.8 L757.4 1728.5 L761.6 1728.2 L765.7 1727.9 L769.9 1727.6 L774.0 1727.3 L778.1 1727.0 L782.3 1726.8 L786.4 1726.5 L790.6 1726.2 L794.7 1725.9 L798.8 1725.6 L803.0 1725.3 L807.1 1725.0 L811.3 1724.8 L815.4 1724.5 L819.5 1724.2 L823.7 1723.9 L827.8 1723.7 L832.0 1723.4 L836.1 1723.1 L840.2 1722.9 L844.4 1722.6 L848.5 1722.3 L852.7 1722.1 L856.8 1721.8 L860.9 1721.6 L865.1 1721.3 L869.2 1721.1 L873.4 1720.8 L877.5 1720.6 L881.6 1720.3 L885.8 1720.1 L889.9 1719.8 L894.1 1719.6 L898.2 1719.3 L902.3 1719.1 L906.5 1718.8 L910.6 1718.6 L914.8 1718.3 L918.9 1718.1 L923.0 1717.9 L927.2 1717.6 L931.3 1717.4 L935.5 1717.2 L939.6 1716.9 L943.7 1716.7 L947.9 1716.5 L952.0 1716.2 L956.2 1716.0 L960.3 1715.8 L964.4 1715.6 L968.6 1715.3 L972.7 1715.1 L976.9 1714.9 L981.0 1714.7 L985.1 1714.5 L989.3 1714.3 L993.4 1714.1 L997.6 1713.9 L1001.7 1713.7 L1005.8 1713.5 L1010.0 1713.3 L1014.1 1713.1 L1018.3 1712.9 L1022.4 1712.7 L1026.5 1712.5 L1030.7 1712.3 L1034.8 1712.1 L1039.0 1711.9 L1043.1 1711.8 L1047.2 1711.6 L1051.4 1711.4 L1055.5 1711.2 L1059.7 1711.0 L1063.8 1710.8 L1067.9 1710.7 L1072.1 1710.5 L1076.2 1710.3 L1080.4 1710.1 L1084.5 1710.0 L1088.6 1709.8 L1092.8 1709.6 L1096.9 1709.5 L1101.1 1709.3 L1105.2 1709.1 L1109.3 1709.0 L1113.5 1708.8 L1117.6 1708.6 L1121.8 1708.5 L1125.9 1708.3 L1130.0 1708.1 L1134.2 1708.0 L1138.3 1707.8 L1142.5 1707.7 L1146.6 1707.5 L1150.7 1707.3 L1154.9 1707.2 L1159.0 1707.0 L1163.2 1706.9 L1167.3 1706.7 L1171.4 1706.6 L1175.6 1706.4 L1179.7 1706.3 L1183.9 1706.1 L1188.0 1706.0 L1192.1 1705.8 L1196.3 1705.7 L1200.4 1705.5 L1204.6 1705.4 L1208.7 1705.2 L1212.8 1705.1 L1217.0 1704.9 L1221.1 1704.8 L1225.3 1704.6 L1229.4 1704.5 L1233.5 1704.3 L1237.7 1704.2 L1241.8 1704.0 L1246.0 1703.9 L1250.1 1703.7 L1254.2 1703.6 L1258.4 1703.4 L1262.5 1703.3 L1266.7 1703.1 L1270.8 1703.0 L1274.9 1702.8 L1279.1 1702.7 L1283.2 1702.6 L1287.4 1702.4 L1291.5 1702.3 L1295.6 1702.1 L1299.8 1702.0 L1303.9 1701.8 L1308.1 1701.7 L1312.2 1701.6 L1316.3 1701.4 L1320.5 1701.3 L1324.6 1701.1 L1328.8 1701.0 L1332.9 1700.8 L1337.0 1700.7 L1341.2 1700.6 L1345.3 1700.4 L1349.5 1700.3 L1353.6 1700.2 L1357.7 1700.0 L1361.9 1699.9 L1366.0 1699.8 L1370.2 1699.6 L1374.3 1699.5 L1378.4 1699.4 L1382.6 1699.3 L1386.7 1699.1 L1390.9 1699.0 L1395.0 1698.9 L1399.1 1698.7 L1403.3 1698.6 L1407.4 1698.5 L1411.6 1698.4 L1415.7 1698.3 L1419.8 1698.1 L1424.0 1698.0 L1428.1 1697.9 L1432.3 1697.8 L1436.4 1697.7 L1440.5 1697.6 L1444.7 1697.5 L1448.8 1697.4 L1453.0 1697.3 L1457.1 1697.2 L1461.2 1697.0 L1465.4 1696.9 L1469.5 1696.8 L1473.7 1696.7 L1477.8 1696.7 L1481.9 1696.6 L1486.1 1696.5 L1490.2 1696.4 L1494.4 1696.3 L1498.5 1696.2 L1502.6 1696.1 L1506.8 1696.0 L1510.9 1695.9 L1515.1 1695.9 L1519.2 1695.8 L1523.3 1695.7 L1527.5 1695.6 L1531.6 1695.5 L1535.8 1695.4 L1539.9 1695.4 L1544.0 1695.3 L1548.2 1695.2 L1552.3 1695.1 L1556.5 1695.1 L1560.6 1695.0 L1564.7 1694.9 L1568.9 1694.8 L1573.0 1694.8 L1577.2 1694.7 L1581.3 1694.6 L1585.4 1694.5 L1589.6 1694.5 L1593.7 1694.4 L1597.9 1694.3 L1602.0 1694.3 L1606.1 1694.2 L1610.3 1694.1 L1614.4 1694.1 L1618.6 1694.0 L1622.7 1693.9 L1626.8 1693.9 L1631.0 1693.8 L1635.1 1693.7 L1639.3 1693.7 L1643.4 1693.6 L1647.5 1693.5 L1651.7 1693.5 L1655.8 1693.4 L1660.0 1693.4 L1664.1 1693.3 L1668.2 1693.2 L1672.4 1693.2 L1676.5 1693.1 L1680.7 1693.1 L1684.8 1693.0 L1688.9 1692.9 L1693.1 1692.9 L1697.2 1692.8 L1701.4 1692.8 L1705.5 1692.7 L1709.6 1692.6 L1713.8 1692.6 L1717.9 1692.5 L1722.1 1692.5 L1726.2 1692.4 L1730.3 1692.4 L1734.5 1692.3 L1738.6 1692.2 L1742.8 1692.2 L1746.9 1692.1 L1751.0 1692.1 L1755.2 1692.0 L1759.3 1692.0 L1763.5 1691.9 L1767.6 1691.8 L1771.7 1691.8 L1775.9 1691.7 L1780.0 1691.7 L1784.2 1691.6 L1788.3 1691.6 L1792.4 1691.5 L1796.6 1691.5 L1800.7 1691.4 L1804.9 1691.3 L1809.0 1691.3 L1813.1 1691.2 L1817.3 1691.2 L1821.4 1691.1 L1825.6 1691.1 L1829.7 1691.0 L1833.8 1690.9 L1838.0 1690.9 L1842.1 1690.8 L1846.3 1690.8 L1850.4 1690.7 L1854.5 1690.6 L1858.7 1690.6 L1862.8 1690.5 L1867.0 1690.5 L1871.1 1690.4 L1875.2 1690.3 L1879.4 1690.3 L1883.5 1690.2 L1887.7 1690.2 L1891.8 1690.1 L1895.9 1690.0 L1900.1 1690.0 L1904.2 1689.9 L1908.4 1689.9 L1912.5 1689.8" stroke="#f2b420" stroke-width="7.2"/>
<path d="M256.5 2566.0 L260.6 2552.3 L264.8 2538.7 L268.9 2525.0 L273.1 2511.4 L277.2 2497.7 L281.3 2484.1 L285.5 2470.4 L289.6 2456.8 L293.8 2443.1 L297.9 2429.5 L302.0 2415.8 L306.2 2402.2 L310.3 2388.5 L314.5 2374.9 L318.6 2361.2 L322.7 2347.6 L326.9 2333.9 L331.0 2320.3 L335.2 2306.6 L339.3 2292.9 L343.4 2279.3 L347.6 2265.6 L351.7 2252.0 L355.9 2238.3 L360.0 2224.7 L364.1 2211.0 L368.3 2197.4 L372.4 2183.7 L376.6 2170.0 L380.7 2156.4 L384.8 2142.7 L389.0 2129.0 L393.1 2115.3 L397.3 2101.6 L401.4 2088.0 L405.5 2074.3 L409.7 2060.6 L413.8 2047.0 L418.0 2033.3 L422.1 2019.7 L426.2 2006.2 L430.4 1992.9 L434.5 1979.8 L438.7 1966.9 L442.8 1954.1 L446.9 1941.5 L451.1 1929.0 L455.2 1916.8 L459.4 1904.9 L463.5 1893.2 L467.6 1881.9 L471.8 1871.1 L475.9 1860.7 L480.1 1850.7 L484.2 1841.5 L488.3 1833.2 L492.5 1825.5 L496.6 1818.6 L500.8 1812.4 L504.9 1806.8 L509.0 1801.7 L513.2 1797.0 L517.3 1792.6 L521.5 1788.5 L525.6 1784.6 L529.7 1781.0 L533.9 1778.0 L538.0 1775.4 L542.2 1773.0 L546.3 1770.8 L550.4 1768.8 L554.6 1766.9 L558.7 1765.2 L562.9 1763.7 L567.0 1762.4 L571.1 1761.0 L575.3 1759.8 L579.4 1758.6 L583.6 1757.5 L587.7 1756.4 L591.8 1755.4 L596.0 1754.4 L600.1 1753.5 L604.3 1752.6 L608.4 1751.7 L612.5 1750.9 L616.7 1750.1 L620.8 1749.3 L625.0 1748.6 L629.1 1747.9 L633.2 1747.2 L637.4 1746.5 L641.5 1745.8 L645.7 1745.2 L649.8 1744.6 L653.9 1744.0 L658.1 1743.4 L662.2 1742.8 L666.4 1742.3 L670.5 1741.8 L674.6 1741.3 L678.8 1740.8 L682.9 1740.3 L687.1 1739.8 L691.2 1739.4 L695.3 1739.0 L699.5 1738.6 L703.6 1738.2 L707.8 1737.8 L711.9 1737.5 L716.0 1737.1 L720.2 1736.8 L724.3 1736.4 L728.5 1736.1 L732.6 1735.8 L736.7 1735.5 L740.9 1735.2 L745.0 1734.9 L749.2 1734.6 L753.3 1734.3 L757.4 1734.0 L761.6 1733.7 L765.7 1733.4 L769.9 1733.2 L774.0 1732.9 L778.1 1732.6 L782.3 1732.3 L786.4 1732.0 L790.6 1731.7 L794.7 1731.4 L798.8 1731.1 L803.0 1730.9 L807.1 1730.6 L811.3 1730.3 L815.4 1730.0 L819.5 1729.7 L823.7 1729.5 L827.8 1729.2 L832.0 1728.9 L836.1 1728.7 L840.2 1728.4 L844.4 1728.1 L848.5 1727.9 L852.7 1727.6 L856.8 1727.4 L860.9 1727.1 L865.1 1726.8 L869.2 1726.6 L873.4 1726.3 L877.5 1726.1 L881.6 1725.8 L885.8 1725.6 L889.9 1725.3 L894.1 1725.1 L898.2 1724.9 L902.3 1724.6 L906.5 1724.4 L910.6 1724.1 L914.8 1723.9 L918.9 1723.6 L923.0 1723.4 L927.2 1723.2 L931.3 1722.9 L935.5 1722.7 L939.6 1722.5 L943.7 1722.2 L947.9 1722.0 L952.0 1721.8 L956.2 1721.5 L960.3 1721.3 L964.4 1721.1 L968.6 1720.9 L972.7 1720.6 L976.9 1720.4 L981.0 1720.2 L985.1 1720.0 L989.3 1719.8 L993.4 1719.6 L997.6 1719.4 L1001.7 1719.2 L1005.8 1719.0 L1010.0 1718.8 L1014.1 1718.6 L1018.3 1718.4 L1022.4 1718.2 L1026.5 1718.0 L1030.7 1717.8 L1034.8 1717.7 L1039.0 1717.5 L1043.1 1717.3 L1047.2 1717.1 L1051.4 1716.9 L1055.5 1716.7 L1059.7 1716.6 L1063.8 1716.4 L1067.9 1716.2 L1072.1 1716.0 L1076.2 1715.8 L1080.4 1715.7 L1084.5 1715.5 L1088.6 1715.3 L1092.8 1715.2 L1096.9 1715.0 L1101.1 1714.8 L1105.2 1714.7 L1109.3 1714.5 L1113.5 1714.3 L1117.6 1714.2 L1121.8 1714.0 L1125.9 1713.8 L1130.0 1713.7 L1134.2 1713.5 L1138.3 1713.3 L1142.5 1713.2 L1146.6 1713.0 L1150.7 1712.9 L1154.9 1712.7 L1159.0 1712.6 L1163.2 1712.4 L1167.3 1712.2 L1171.4 1712.1 L1175.6 1711.9 L1179.7 1711.8 L1183.9 1711.6 L1188.0 1711.5 L1192.1 1711.3 L1196.3 1711.2 L1200.4 1711.0 L1204.6 1710.9 L1208.7 1710.7 L1212.8 1710.6 L1217.0 1710.4 L1221.1 1710.3 L1225.3 1710.1 L1229.4 1710.0 L1233.5 1709.9 L1237.7 1709.7 L1241.8 1709.6 L1246.0 1709.4 L1250.1 1709.3 L1254.2 1709.1 L1258.4 1709.0 L1262.5 1708.8 L1266.7 1708.7 L1270.8 1708.5 L1274.9 1708.4 L1279.1 1708.2 L1283.2 1708.1 L1287.4 1707.9 L1291.5 1707.8 L1295.6 1707.7 L1299.8 1707.5 L1303.9 1707.4 L1308.1 1707.2 L1312.2 1707.1 L1316.3 1706.9 L1320.5 1706.8 L1324.6 1706.7 L1328.8 1706.5 L1332.9 1706.4 L1337.0 1706.2 L1341.2 1706.1 L1345.3 1706.0 L1349.5 1705.8 L1353.6 1705.7 L1357.7 1705.6 L1361.9 1705.4 L1366.0 1705.3 L1370.2 1705.2 L1374.3 1705.0 L1378.4 1704.9 L1382.6 1704.8 L1386.7 1704.7 L1390.9 1704.5 L1395.0 1704.4 L1399.1 1704.3 L1403.3 1704.2 L1407.4 1704.0 L1411.6 1703.9 L1415.7 1703.8 L1419.8 1703.7 L1424.0 1703.6 L1428.1 1703.4 L1432.3 1703.3 L1436.4 1703.2 L1440.5 1703.1 L1444.7 1703.0 L1448.8 1702.9 L1453.0 1702.8 L1457.1 1702.7 L1461.2 1702.6 L1465.4 1702.5 L1469.5 1702.4 L1473.7 1702.3 L1477.8 1702.2 L1481.9 1702.1 L1486.1 1702.0 L1490.2 1701.9 L1494.4 1701.8 L1498.5 1701.7 L1502.6 1701.6 L1506.8 1701.6 L1510.9 1701.5 L1515.1 1701.4 L1519.2 1701.3 L1523.3 1701.2 L1527.5 1701.1 L1531.6 1701.1 L1535.8 1701.0 L1539.9 1700.9 L1544.0 1700.8 L1548.2 1700.7 L1552.3 1700.7 L1556.5 1700.6 L1560.6 1700.5 L1564.7 1700.4 L1568.9 1700.4 L1573.0 1700.3 L1577.2 1700.2 L1581.3 1700.1 L1585.4 1700.1 L1589.6 1700.0 L1593.7 1699.9 L1597.9 1699.9 L1602.0 1699.8 L1606.1 1699.7 L1610.3 1699.7 L1614.4 1699.6 L1618.6 1699.5 L1622.7 1699.5 L1626.8 1699.4 L1631.0 1699.3 L1635.1 1699.3 L1639.3 1699.2 L1643.4 1699.1 L1647.5 1699.1 L1651.7 1699.0 L1655.8 1699.0 L1660.0 1698.9 L1664.1 1698.8 L1668.2 1698.8 L1672.4 1698.7 L1676.5 1698.6 L1680.7 1698.6 L1684.8 1698.5 L1688.9 1698.5 L1693.1 1698.4 L1697.2 1698.3 L1701.4 1698.3 L1705.5 1698.2 L1709.6 1698.2 L1713.8 1698.1 L1717.9 1698.1 L1722.1 1698.0 L1726.2 1697.9 L1730.3 1697.9 L1734.5 1697.8 L1738.6 1697.8 L1742.8 1697.7 L1746.9 1697.7 L1751.0 1697.6 L1755.2 1697.5 L1759.3 1697.5 L1763.5 1697.4 L1767.6 1697.4 L1771.7 1697.3 L1775.9 1697.3 L1780.0 1697.2 L1784.2 1697.2 L1788.3 1697.1 L1792.4 1697.0 L1796.6 1697.0 L1800.7 1696.9 L1804.9 1696.9 L1809.0 1696.8 L1813.1 1696.8 L1817.3 1696.7 L1821.4 1696.6 L1825.6 1696.6 L1829.7 1696.5 L1833.8 1696.5 L1838.0 1696.4 L1842.1 1696.4 L1846.3 1696.3 L1850.4 1696.2 L1854.5 1696.2 L1858.7 1696.1 L1862.8 1696.1 L1867.0 1696.0 L1871.1 1695.9 L1875.2 1695.9 L1879.4 1695.8 L1883.5 1695.8 L1887.7 1695.7 L1891.8 1695.6 L1895.9 1695.6 L1900.1 1695.5 L1904.2 1695.4 L1908.4 1695.4 L1912.5 1695.3" stroke="#2f74c0" stroke-width="6.2" stroke-dasharray="13 10"/>
<path d="M256.5 2566.0 L260.6 2552.3 L264.8 2538.7 L268.9 2525.0 L273.1 2511.4 L277.2 2497.7 L281.3 2484.1 L285.5 2470.4 L289.6 2456.8 L293.8 2443.1 L297.9 2429.5 L302.0 2415.8 L306.2 2402.2 L310.3 2388.5 L314.5 2374.9 L318.6 2361.2 L322.7 2347.6 L326.9 2333.9 L331.0 2320.3 L335.2 2306.6 L339.3 2292.9 L343.4 2279.3 L347.6 2265.6 L351.7 2252.0 L355.9 2238.3 L360.0 2224.7 L364.1 2211.0 L368.3 2197.4 L372.4 2183.7 L376.6 2170.0 L380.7 2156.4 L384.8 2142.7 L389.0 2129.0 L393.1 2115.3 L397.3 2101.6 L401.4 2088.0 L405.5 2074.3 L409.7 2060.6 L413.8 2047.0 L418.0 2033.3 L422.1 2019.7 L426.2 2006.2 L430.4 1993.0 L434.5 1980.0 L438.7 1967.3 L442.8 1954.8 L446.9 1942.4 L451.1 1930.2 L455.2 1918.3 L459.4 1906.8 L463.5 1895.5 L467.6 1884.5 L471.8 1874.0 L475.9 1864.0 L480.1 1854.3 L484.2 1845.5 L488.3 1837.5 L492.5 1830.1 L496.6 1823.4 L500.8 1817.5 L504.9 1812.1 L509.0 1807.1 L513.2 1802.5 L517.3 1798.1 L521.5 1794.0 L525.6 1790.1 L529.7 1786.5 L533.9 1783.5 L538.0 1780.9 L542.2 1778.5 L546.3 1776.3 L550.4 1774.3 L554.6 1772.4 L558.7 1770.8 L562.9 1769.3 L567.0 1767.9 L571.1 1766.6 L575.3 1765.3 L579.4 1764.1 L583.6 1763.0 L587.7 1761.9 L591.8 1760.9 L596.0 1759.9 L600.1 1759.0 L604.3 1758.1 L608.4 1757.2 L612.5 1756.4 L616.7 1755.6 L620.8 1754.9 L625.0 1754.1 L629.1 1753.4 L633.2 1752.7 L637.4 1752.0 L641.5 1751.4 L645.7 1750.7 L649.8 1750.1 L653.9 1749.5 L658.1 1748.9 L662.2 1748.4 L666.4 1747.8 L670.5 1747.3 L674.6 1746.8 L678.8 1746.3 L682.9 1745.8 L687.1 1745.4 L691.2 1744.9 L695.3 1744.5 L699.5 1744.1 L703.6 1743.7 L707.8 1743.3 L711.9 1743.0 L716.0 1742.6 L720.2 1742.3 L724.3 1742.0 L728.5 1741.6 L732.6 1741.3 L736.7 1741.0 L740.9 1740.7 L745.0 1740.4 L749.2 1740.1 L753.3 1739.8 L757.4 1739.6 L761.6 1739.3 L765.7 1739.0 L769.9 1738.7 L774.0 1738.4 L778.1 1738.1 L782.3 1737.8 L786.4 1737.5 L790.6 1737.2 L794.7 1737.0 L798.8 1736.7 L803.0 1736.4 L807.1 1736.1 L811.3 1735.8 L815.4 1735.6 L819.5 1735.3 L823.7 1735.0 L827.8 1734.7 L832.0 1734.5 L836.1 1734.2 L840.2 1733.9 L844.4 1733.7 L848.5 1733.4 L852.7 1733.2 L856.8 1732.9 L860.9 1732.6 L865.1 1732.4 L869.2 1732.1 L873.4 1731.9 L877.5 1731.6 L881.6 1731.4 L885.8 1731.1 L889.9 1730.9 L894.1 1730.6 L898.2 1730.4 L902.3 1730.1 L906.5 1729.9 L910.6 1729.7 L914.8 1729.4 L918.9 1729.2 L923.0 1728.9 L927.2 1728.7 L931.3 1728.5 L935.5 1728.2 L939.6 1728.0 L943.7 1727.7 L947.9 1727.5 L952.0 1727.3 L956.2 1727.1 L960.3 1726.8 L964.4 1726.6 L968.6 1726.4 L972.7 1726.2 L976.9 1726.0 L981.0 1725.7 L985.1 1725.5 L989.3 1725.3 L993.4 1725.1 L997.6 1724.9 L1001.7 1724.7 L1005.8 1724.5 L1010.0 1724.3 L1014.1 1724.1 L1018.3 1723.9 L1022.4 1723.8 L1026.5 1723.6 L1030.7 1723.4 L1034.8 1723.2 L1039.0 1723.0 L1043.1 1722.8 L1047.2 1722.6 L1051.4 1722.4 L1055.5 1722.3 L1059.7 1722.1 L1063.8 1721.9 L1067.9 1721.7 L1072.1 1721.6 L1076.2 1721.4 L1080.4 1721.2 L1084.5 1721.0 L1088.6 1720.9 L1092.8 1720.7 L1096.9 1720.5 L1101.1 1720.3 L1105.2 1720.2 L1109.3 1720.0 L1113.5 1719.8 L1117.6 1719.7 L1121.8 1719.5 L1125.9 1719.4 L1130.0 1719.2 L1134.2 1719.0 L1138.3 1718.9 L1142.5 1718.7 L1146.6 1718.6 L1150.7 1718.4 L1154.9 1718.2 L1159.0 1718.1 L1163.2 1717.9 L1167.3 1717.8 L1171.4 1717.6 L1175.6 1717.5 L1179.7 1717.3 L1183.9 1717.2 L1188.0 1717.0 L1192.1 1716.9 L1196.3 1716.7 L1200.4 1716.6 L1204.6 1716.4 L1208.7 1716.3 L1212.8 1716.1 L1217.0 1716.0 L1221.1 1715.8 L1225.3 1715.7 L1229.4 1715.5 L1233.5 1715.4 L1237.7 1715.2 L1241.8 1715.1 L1246.0 1714.9 L1250.1 1714.8 L1254.2 1714.6 L1258.4 1714.5 L1262.5 1714.3 L1266.7 1714.2 L1270.8 1714.1 L1274.9 1713.9 L1279.1 1713.8 L1283.2 1713.6 L1287.4 1713.5 L1291.5 1713.3 L1295.6 1713.2 L1299.8 1713.0 L1303.9 1712.9 L1308.1 1712.8 L1312.2 1712.6 L1316.3 1712.5 L1320.5 1712.3 L1324.6 1712.2 L1328.8 1712.1 L1332.9 1711.9 L1337.0 1711.8 L1341.2 1711.6 L1345.3 1711.5 L1349.5 1711.4 L1353.6 1711.2 L1357.7 1711.1 L1361.9 1711.0 L1366.0 1710.8 L1370.2 1710.7 L1374.3 1710.6 L1378.4 1710.4 L1382.6 1710.3 L1386.7 1710.2 L1390.9 1710.1 L1395.0 1709.9 L1399.1 1709.8 L1403.3 1709.7 L1407.4 1709.6 L1411.6 1709.4 L1415.7 1709.3 L1419.8 1709.2 L1424.0 1709.1 L1428.1 1709.0 L1432.3 1708.9 L1436.4 1708.8 L1440.5 1708.6 L1444.7 1708.5 L1448.8 1708.4 L1453.0 1708.3 L1457.1 1708.2 L1461.2 1708.1 L1465.4 1708.0 L1469.5 1707.9 L1473.7 1707.8 L1477.8 1707.7 L1481.9 1707.6 L1486.1 1707.5 L1490.2 1707.4 L1494.4 1707.3 L1498.5 1707.3 L1502.6 1707.2 L1506.8 1707.1 L1510.9 1707.0 L1515.1 1706.9 L1519.2 1706.8 L1523.3 1706.7 L1527.5 1706.7 L1531.6 1706.6 L1535.8 1706.5 L1539.9 1706.4 L1544.0 1706.3 L1548.2 1706.3 L1552.3 1706.2 L1556.5 1706.1 L1560.6 1706.0 L1564.7 1706.0 L1568.9 1705.9 L1573.0 1705.8 L1577.2 1705.7 L1581.3 1705.7 L1585.4 1705.6 L1589.6 1705.5 L1593.7 1705.5 L1597.9 1705.4 L1602.0 1705.3 L1606.1 1705.3 L1610.3 1705.2 L1614.4 1705.1 L1618.6 1705.1 L1622.7 1705.0 L1626.8 1704.9 L1631.0 1704.9 L1635.1 1704.8 L1639.3 1704.7 L1643.4 1704.7 L1647.5 1704.6 L1651.7 1704.5 L1655.8 1704.5 L1660.0 1704.4 L1664.1 1704.4 L1668.2 1704.3 L1672.4 1704.2 L1676.5 1704.2 L1680.7 1704.1 L1684.8 1704.1 L1688.9 1704.0 L1693.1 1703.9 L1697.2 1703.9 L1701.4 1703.8 L1705.5 1703.8 L1709.6 1703.7 L1713.8 1703.6 L1717.9 1703.6 L1722.1 1703.5 L1726.2 1703.5 L1730.3 1703.4 L1734.5 1703.4 L1738.6 1703.3 L1742.8 1703.2 L1746.9 1703.2 L1751.0 1703.1 L1755.2 1703.1 L1759.3 1703.0 L1763.5 1703.0 L1767.6 1702.9 L1771.7 1702.9 L1775.9 1702.8 L1780.0 1702.7 L1784.2 1702.7 L1788.3 1702.6 L1792.4 1702.6 L1796.6 1702.5 L1800.7 1702.5 L1804.9 1702.4 L1809.0 1702.3 L1813.1 1702.3 L1817.3 1702.2 L1821.4 1702.2 L1825.6 1702.1 L1829.7 1702.1 L1833.8 1702.0 L1838.0 1701.9 L1842.1 1701.9 L1846.3 1701.8 L1850.4 1701.8 L1854.5 1701.7 L1858.7 1701.6 L1862.8 1701.6 L1867.0 1701.5 L1871.1 1701.5 L1875.2 1701.4 L1879.4 1701.3 L1883.5 1701.3 L1887.7 1701.2 L1891.8 1701.2 L1895.9 1701.1 L1900.1 1701.0 L1904.2 1701.0 L1908.4 1700.9 L1912.5 1700.9" stroke="#3f8f20" stroke-width="6.2" stroke-dasharray="15 11 5 11"/>
</g>
<g filter="url(#bl)" fill="none" stroke-width="6">
<path d="M906.5 1861.2H1209.5" stroke="#2444a8"/>
<path d="M906.5 1962H1200" stroke="#d85818" stroke-dasharray="16 7"/>
<path d="M906.5 2063H1195" stroke="#6e6e6e" stroke-dasharray="46 17 6 17 6 18"/>
<path d="M906.5 2163.5H1209.5" stroke="#e8a020"/>
<path d="M906.5 2265H1210" stroke="#2f74c0" stroke-dasharray="24 16"/>
<path d="M906.5 2366.5H1207" stroke="#3f8f20" stroke-dasharray="24 16 7 16"/>
<path d="M906.5 2467.2H1199.5" stroke="#bcc6f0" stroke-dasharray="6 5.3"/>
</g>
<text x="1245.5 1321.5 1397.5 1473.5" y="1886.8" font-size="75" fill="#000">端部壁厚</text>
<text x="1552.3" y="1887.2" font-size="77.5">120 mm</text>
<text x="1245.5 1321.5 1397.5 1473.5" y="1987.6" font-size="75" fill="#000">端部壁厚</text>
<text x="1552.3" y="1988.0" font-size="77.5">110 mm</text>
<text x="1245.5 1321.5 1397.5 1473.5" y="2088.6" font-size="75" fill="#000">端部壁厚</text>
<text x="1552.3" y="2089.0" font-size="77.5">100 mm</text>
<text x="1245.5 1321.5 1397.5 1473.5" y="2189.1" font-size="75" fill="#000">端部壁厚</text>
<text x="1552.3" y="2189.5" font-size="77.5">90 mm</text>
<text x="1245.5 1321.5 1397.5 1473.5" y="2290.6" font-size="75" fill="#000">端部壁厚</text>
<text x="1552.3" y="2291.0" font-size="77.5">80 mm</text>
<text x="1245.5 1321.5 1397.5 1473.5" y="2392.1" font-size="75" fill="#000">端部壁厚</text>
<text x="1552.3" y="2392.5" font-size="77.5">70 mm</text>
<text x="1245.5 1321.5 1397.5 1473.5" y="2492.8" font-size="75" fill="#000">端部壁厚</text>
<text x="1552.3" y="2493.2" font-size="77.5">60 mm</text>
<text x="227" y="2590.7" font-size="77.5" text-anchor="end">0.0</text>
<text x="227" y="2445.0" font-size="77.5" text-anchor="end">0.5</text>
<text x="227" y="2299.4" font-size="77.5" text-anchor="end">1.0</text>
<text x="227" y="2156.6" font-size="77.5" text-anchor="end">1.5</text>
<text x="227" y="2010.5" font-size="77.5" text-anchor="end">2.0</text>
<text x="227" y="1858.1" font-size="77.5" text-anchor="end">2.5</text>
<text x="227" y="1713.2" font-size="77.5" text-anchor="end">3.0</text>
<text x="227" y="1576.4" font-size="77.5" text-anchor="end">3.5</text>
<text x="258.7" y="2660.6" font-size="77.5" text-anchor="middle">0</text>
<text x="665.5" y="2660.6" font-size="77.5" text-anchor="middle">5</text>
<text x="1081.7" y="2660.6" font-size="77.5" text-anchor="middle">10</text>
<text x="1501.6" y="2660.6" font-size="77.5" text-anchor="middle">15</text>
<text x="1910.5" y="2660.6" font-size="77.5" text-anchor="middle">20</text>
<g transform="translate(82.5 2207.5) rotate(-90)">
<text x="0.9 77.7 154.5 231.3" y="0" font-size="75" fill="#000">荷载倍数</text>
</g>
<text x="819.2 896.6 974.0 1051.4 1128.8" y="2770.2" font-size="74" fill="#000">关键点位移</text>
<text x="1204.5" y="2771.0" font-size="77.5" fill="#000">/mm</text>
<text x="216.6" y="2897" font-size="76">(b)</text>
<text x="308.8 386.4 464.0 541.6 619.2 696.8 774.4 852.0 929.6 1007.2 1084.8 1162.4 1240.0" y="2896.2" font-size="74" fill="#000">不同鞍槽壁厚下横肋中点位移</text>
<text x="1315.8" y="2897.0" font-size="77.5" fill="#000">-</text>
<text x="1343.4 1421.0 1498.6 1576.2 1653.8 1731.4" y="2896.2" font-size="74" fill="#000">荷载倍数曲线</text>
<g filter="url(#bl2)">
<g stroke="#282828" stroke-width="6" fill="none" stroke-linecap="round" stroke-linejoin="round">
<path d="M354.0 2994.9H330.0V4032.8H1912.9v-12"/>
</g>
<g stroke="#282828" stroke-width="5.4" fill="none" stroke-linecap="round">
<path d="M330.5 3049.2h18.5"/>
<path d="M330.5 3099.1h18.5"/>
<path d="M330.5 3155.5h18.5"/>
<path d="M330.5 3204.1h18.5"/>
<path d="M330.5 3260.5h18.5"/>
<path d="M330.5 3309.1h18.5"/>
<path d="M330.5 3358.9h18.5"/>
<path d="M330.5 3414.1h18.5"/>
<path d="M330.5 3463.9h18.5"/>
<path d="M330.5 3518.0h24"/>
<path d="M330.5 3566.9h18.5"/>
<path d="M330.5 3616.8h18.5"/>
<path d="M330.5 3671.9h18.5"/>
<path d="M330.5 3720.5h18.5"/>
<path d="M330.5 3775.6h24"/>
<path d="M330.5 3825.5h18.5"/>
<path d="M330.5 3880.6h18.5"/>
<path d="M330.5 3930.4h18.5"/>
<path d="M330.5 3980.3h18.5"/>
<path d="M429.3 4032.8v-17"/>
<path d="M528.7 4032.8v-17"/>
<path d="M628.2 4032.8v-17"/>
<path d="M722.6 4032.8v-17"/>
<path d="M821.4 4032.8v-23"/>
<path d="M920.9 4032.8v-17"/>
<path d="M1021.0 4032.8v-17"/>
<path d="M1120.6 4032.8v-17"/>
<path d="M1219.4 4032.8v-17"/>
<path d="M1319.6 4032.8v-23"/>
<path d="M1419.1 4032.8v-17"/>
<path d="M1519.3 4032.8v-17"/>
<path d="M1618.8 4032.8v-17"/>
<path d="M1719.0 4032.8v-17"/>
<path d="M1813.4 4032.8v-23"/>
</g>
</g>
<path d="M331.2 3261.0C337.5 3263.7 356.5 3271.9 369.2 3277.3C381.9 3282.8 394.6 3288.2 407.2 3293.7C419.9 3299.1 432.6 3304.5 445.2 3309.9C457.9 3315.4 470.6 3320.8 483.3 3326.2C495.9 3331.6 508.6 3337.0 521.3 3342.4C533.9 3347.8 546.6 3353.2 559.3 3358.6C572.0 3364.0 584.6 3369.4 597.3 3374.9C610.0 3380.3 622.6 3385.8 635.3 3391.2C648.0 3396.6 660.7 3402.1 673.3 3407.4C686.0 3412.7 698.7 3418.0 711.3 3423.0C724.0 3428.0 736.7 3433.0 749.4 3437.6C762.0 3442.2 774.7 3446.7 787.4 3450.8C800.1 3454.9 812.7 3458.8 825.4 3462.3C838.1 3465.9 850.7 3469.2 863.4 3472.2C876.1 3475.2 888.8 3477.9 901.4 3480.5C914.1 3483.1 926.8 3485.3 939.4 3487.6C952.1 3489.8 964.8 3491.8 977.5 3494.1C990.1 3496.4 1002.8 3498.6 1015.5 3501.2C1028.1 3503.8 1040.8 3506.6 1053.5 3509.9C1066.2 3513.1 1078.8 3516.8 1091.5 3520.8C1104.2 3524.8 1116.8 3529.3 1129.5 3534.0C1142.2 3538.7 1154.9 3543.8 1167.5 3549.0C1180.2 3554.2 1192.9 3559.7 1205.5 3565.1C1218.2 3570.5 1230.9 3576.1 1243.6 3581.6C1256.2 3587.0 1268.9 3592.5 1281.6 3597.8C1294.2 3603.2 1306.9 3608.5 1319.6 3613.7C1332.3 3619.0 1344.9 3624.2 1357.6 3629.4C1370.3 3634.6 1382.9 3639.8 1395.6 3645.0C1408.3 3650.3 1421.0 3655.6 1433.6 3660.9C1446.3 3666.1 1459.0 3671.5 1471.7 3676.7C1484.3 3681.9 1497.0 3687.1 1509.7 3692.1C1522.3 3697.1 1535.0 3702.0 1547.7 3706.7C1560.4 3711.4 1573.0 3715.9 1585.7 3720.1C1598.4 3724.3 1611.0 3728.3 1623.7 3731.9C1636.4 3735.5 1649.1 3738.8 1661.7 3741.8C1674.4 3744.9 1687.1 3747.6 1699.7 3750.2C1712.4 3752.8 1725.1 3755.2 1737.8 3757.5C1750.4 3759.9 1763.1 3762.1 1775.8 3764.3C1788.4 3766.5 1801.1 3768.6 1813.8 3770.7C1826.5 3772.8 1845.5 3775.9 1851.8 3776.9" fill="none" stroke="#2454cc" stroke-width="6.5" filter="url(#bl2)"/>
<text x="294.5" y="3023.1" font-size="77.5" text-anchor="end">3.10</text>
<text x="294.5" y="3281.9" font-size="77.5" text-anchor="end">3.05</text>
<text x="294.5" y="3540.6" font-size="77.5" text-anchor="end">3.00</text>
<text x="294.5" y="3801.4" font-size="77.5" text-anchor="end">2.95</text>
<text x="294.5" y="4056.0" font-size="77.5" text-anchor="end">2.90</text>
<text x="329.0" y="4123.3" font-size="77.5" text-anchor="middle">0</text>
<text x="822.8" y="4123.3" font-size="77.5" text-anchor="middle">500</text>
<text x="1322.5" y="4123.3" font-size="77.5" text-anchor="middle">1000</text>
<text x="1813.4" y="4123.3" font-size="77.5" text-anchor="middle">1500</text>
<g transform="translate(110 3741.7) rotate(-90)">
<text x="1.7 79.1 156.5 233.9 311.3 388.7" y="0" font-size="74" fill="#000">设计荷载倍数</text>
</g>
<text x="841.7 919.1 996.5 1073.9 1151.3 1228.7" y="4239.2" font-size="74" fill="#000">用钢量减少量</text>
<text x="1304.4" y="4240.0" font-size="77.5" fill="#000">/kg</text>
<text x="560.0" y="4380.0" font-size="76" fill="#000">(c)</text>
<text x="646.1 723.6 801.1 878.6 956.1 1033.6" y="4379.2" font-size="74" fill="#000">用钢量减少量</text>
<text x="1109.3" y="4380.0" font-size="76" fill="#000">-</text>
<text x="1136.4 1213.9 1291.4 1368.9 1446.4 1523.9" y="4379.2" font-size="74" fill="#000">荷载倍数曲线</text>
</svg>
</body></html>
